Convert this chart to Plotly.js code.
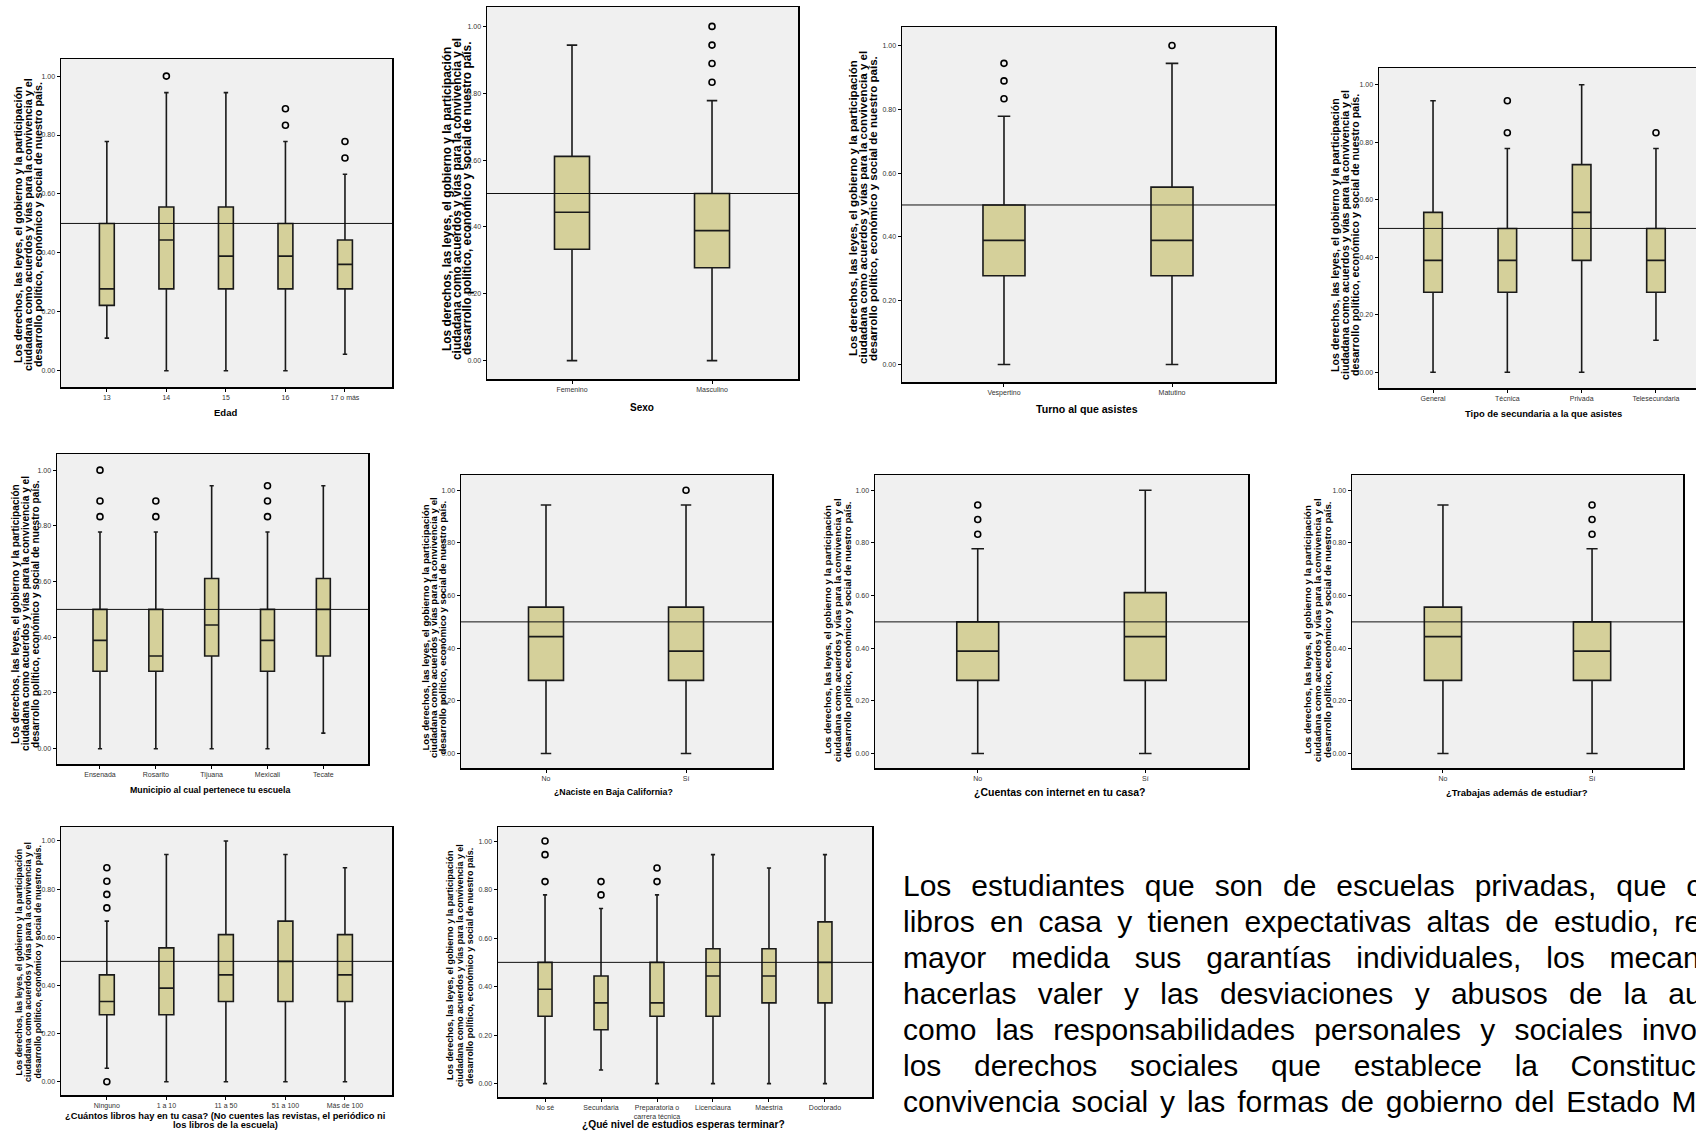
<!DOCTYPE html>
<html>
<head>
<meta charset="utf-8">
<script src="https://cdn.plot.ly/plotly-3.0.1.min.js"></script>
<style>
html,body{margin:0;padding:0;overflow:hidden;background:#fff;width:1696px;height:1134px;}
#chart{position:absolute;left:0;top:0;width:1740px;height:1134px;}
#para{position:absolute;left:903px;top:868px;font-family:"Liberation Sans",Arial,sans-serif;font-size:30px;line-height:36px;color:#000;}
#para .ln{display:block;width:960px;text-align:justify;text-align-last:justify;white-space:normal;}
#para .ln.last{text-align-last:left;white-space:nowrap;word-spacing:3.5px;}
</style>
</head>
<body>
<div id="chart"></div>
<div id="para">
<div class="ln" style="width:1035px">Los estudiantes que son de escuelas privadas, que cuentan con más</div>
<div class="ln">libros en casa y tienen expectativas altas de estudio, reconocen en</div>
<div class="ln">mayor medida sus garantías individuales, los mecanismos para</div>
<div class="ln">hacerlas valer y las desviaciones y abusos de la autoridad, así</div>
<div class="ln">como las responsabilidades personales y sociales involucradas en</div>
<div class="ln" style="width:897px">los derechos sociales que establece la Constitución, la</div>
<div class="ln last">convivencia social y las formas de gobierno del Estado Mexicano.</div>
</div>
<script>
// ---------------- DATA ----------------
const yTitleLines = [
  "Los derechos, las leyes, el gobierno y la participación",
  "ciudadana como acuerdos y vías para la convivencia y el",
  "desarrollo político, económico y social de nuestro país."
];
const yTickVals = [0, 0.2, 0.4, 0.6, 0.8, 1.0];
const refValue = 0.5;

// Panel 1: Edad
const edadCats = ['13', '14', '15', '16', '17 o más'];
const edadMin = [0.111, 0, 0, 0, 0.056];
const edadQ1 = [0.222, 0.278, 0.278, 0.278, 0.278];
const edadMed = [0.278, 0.444, 0.389, 0.389, 0.361];
const edadQ3 = [0.5, 0.556, 0.556, 0.5, 0.444];
const edadMax = [0.778, 0.944, 0.944, 0.778, 0.667];
const edadOutCat = ['14', '16', '16', '17 o más', '17 o más'];
const edadOutVal = [1.0, 0.833, 0.889, 0.722, 0.778];

// Panel 2: Sexo
const sexoCats = ['Femenino', 'Masculino'];
const sexoMin = [0, 0];
const sexoQ1 = [0.333, 0.278];
const sexoMed = [0.444, 0.389];
const sexoQ3 = [0.611, 0.5];
const sexoMax = [0.944, 0.778];
const sexoOutCat = ['Masculino', 'Masculino', 'Masculino', 'Masculino'];
const sexoOutVal = [0.833, 0.889, 0.944, 1.0];

// Panel 3: Turno
const turnoCats = ['Vespertino', 'Matutino'];
const turnoMin = [0, 0];
const turnoQ1 = [0.278, 0.278];
const turnoMed = [0.389, 0.389];
const turnoQ3 = [0.5, 0.556];
const turnoMax = [0.778, 0.944];
const turnoOutCat = ['Vespertino', 'Vespertino', 'Vespertino', 'Matutino'];
const turnoOutVal = [0.833, 0.889, 0.944, 1.0];

// Panel 4: Tipo de secundaria
const tipoCats = ['General', 'Técnica', 'Privada', 'Telesecundaria'];
const tipoMin = [0, 0, 0, 0.111];
const tipoQ1 = [0.278, 0.278, 0.389, 0.278];
const tipoMed = [0.389, 0.389, 0.556, 0.389];
const tipoQ3 = [0.556, 0.5, 0.722, 0.5];
const tipoMax = [0.944, 0.778, 1.0, 0.778];
const tipoOutCat = ['Técnica', 'Técnica', 'Telesecundaria'];
const tipoOutVal = [0.833, 0.944, 0.833];

// Panel 5: Municipio
const munCats = ['Ensenada', 'Rosarito', 'Tijuana', 'Mexicali', 'Tecate'];
const munMin = [0, 0, 0, 0, 0.056];
const munQ1 = [0.278, 0.278, 0.333, 0.278, 0.333];
const munMed = [0.389, 0.333, 0.444, 0.389, 0.5];
const munQ3 = [0.5, 0.5, 0.611, 0.5, 0.611];
const munMax = [0.778, 0.778, 0.944, 0.778, 0.944];
const munOutCat = ['Ensenada', 'Ensenada', 'Ensenada', 'Rosarito', 'Rosarito', 'Mexicali', 'Mexicali', 'Mexicali'];
const munOutVal = [0.833, 0.889, 1.0, 0.833, 0.889, 0.833, 0.889, 0.944];

// Panel 6: ¿Naciste en Baja California?
const nacCats = ['No', 'Sí'];
const nacMin = [0, 0];
const nacQ1 = [0.278, 0.278];
const nacMed = [0.444, 0.389];
const nacQ3 = [0.556, 0.556];
const nacMax = [0.944, 0.944];
const nacOutCat = ['Sí'];
const nacOutVal = [1.0];

// Panel 7: ¿Cuentas con internet?
const intCats = ['No', 'Sí'];
const intMin = [0, 0];
const intQ1 = [0.278, 0.278];
const intMed = [0.389, 0.444];
const intQ3 = [0.5, 0.611];
const intMax = [0.778, 1.0];
const intOutCat = ['No', 'No', 'No'];
const intOutVal = [0.833, 0.889, 0.944];

// Panel 8: ¿Trabajas además de estudiar?
const trabCats = ['No', 'Sí'];
const trabMin = [0, 0];
const trabQ1 = [0.278, 0.278];
const trabMed = [0.444, 0.389];
const trabQ3 = [0.556, 0.5];
const trabMax = [0.944, 0.778];
const trabOutCat = ['Sí', 'Sí', 'Sí'];
const trabOutVal = [0.833, 0.889, 0.944];

// Panel 9: ¿Cuántos libros?
const libCats = ['Ninguno', '1 a 10', '11 a 50', '51 a 100', 'Más de 100'];
const libMin = [0.056, 0, 0, 0, 0];
const libQ1 = [0.278, 0.278, 0.333, 0.333, 0.333];
const libMed = [0.333, 0.389, 0.444, 0.5, 0.444];
const libQ3 = [0.444, 0.556, 0.611, 0.667, 0.611];
const libMax = [0.667, 0.944, 1.0, 0.944, 0.889];
const libOutCat = ['Ninguno', 'Ninguno', 'Ninguno', 'Ninguno', 'Ninguno'];
const libOutVal = [0, 0.722, 0.778, 0.833, 0.889];

// Panel 10: ¿Qué nivel de estudios?
const nivCats = ['No sé', 'Secundaria', 'Preparatoria o<br>carrera técnica', 'Licenciaura', 'Maestría', 'Doctorado'];
const nivMin = [0, 0.056, 0, 0, 0, 0];
const nivQ1 = [0.278, 0.222, 0.278, 0.278, 0.333, 0.333];
const nivMed = [0.389, 0.333, 0.333, 0.444, 0.444, 0.5];
const nivQ3 = [0.5, 0.444, 0.5, 0.556, 0.556, 0.667];
const nivMax = [0.778, 0.722, 0.778, 0.944, 0.889, 0.944];
const nivOutCat = ['No sé', 'No sé', 'No sé', 'Secundaria', 'Secundaria', 'Preparatoria o<br>carrera técnica', 'Preparatoria o<br>carrera técnica'];
const nivOutVal = [0.833, 0.944, 1.0, 0.778, 0.833, 0.833, 0.889];

// ---------------- LAYOUT / STYLE ----------------
const W = 1740, H = 1134;
const YS = 1.08; // y-title font scale
const panels = [
  {cats: edadCats, min: edadMin, q1: edadQ1, med: edadMed, q3: edadQ3, max: edadMax, oc: edadOutCat, ov: edadOutVal,
   px: [61, 392, 59, 387], xr: [-0.77, 4.79], yt: {cx: 28, cy: 225, fs: 10, sp: 10}, xt: {lines: ['Edad'], cx: 226, cy: 412, fs: 9.5}},
  {cats: sexoCats, min: sexoMin, q1: sexoQ1, med: sexoMed, q3: sexoQ3, max: sexoMax, oc: sexoOutCat, ov: sexoOutVal,
   px: [487, 798, 7, 379], xr: [-0.607, 1.614], yt: {cx: 457, cy: 199, fs: 11, sp: 10}, xt: {lines: ['Sexo'], cx: 642, cy: 407, fs: 10}},
  {cats: turnoCats, min: turnoMin, q1: turnoQ1, med: turnoMed, q3: turnoQ3, max: turnoMax, oc: turnoOutCat, ov: turnoOutVal,
   px: [902, 1275, 27, 382], xr: [-0.607, 1.613], yt: {cx: 863, cy: 208, fs: 10.7, sp: 10}, xt: {lines: ['Turno al que asistes'], cx: 1087, cy: 409, fs: 10.6}},
  {cats: tipoCats, min: tipoMin, q1: tipoQ1, med: tipoMed, q3: tipoQ3, max: tipoMax, oc: tipoOutCat, ov: tipoOutVal,
   px: [1379, 1710, 68, 388], xr: [-0.727, 3.727], yt: {cx: 1345, cy: 235, fs: 9.9, sp: 10}, xt: {lines: ['Tipo de secundaria a la que asistes'], cx: 1543, cy: 413, fs: 9.4}},
  {cats: munCats, min: munMin, q1: munQ1, med: munMed, q3: munQ3, max: munMax, oc: munOutCat, ov: munOutVal,
   px: [57, 368, 454, 764], xr: [-0.77, 4.8], yt: {cx: 25, cy: 614, fs: 9.4, sp: 10}, xt: {lines: ['Municipio al cual pertenece tu escuela'], cx: 210, cy: 790, fs: 8.8}},
  {cats: nacCats, min: nacMin, q1: nacQ1, med: nacMed, q3: nacQ3, max: nacMax, oc: nacOutCat, ov: nacOutVal,
   px: [461, 772, 475, 768], xr: [-0.607, 1.614], yt: {cx: 433, cy: 628, fs: 8.9, sp: 8.5}, xt: {lines: ['¿Naciste en Baja California?'], cx: 613, cy: 792, fs: 8.8}},
  {cats: intCats, min: intMin, q1: intQ1, med: intMed, q3: intQ3, max: intMax, oc: intOutCat, ov: intOutVal,
   px: [875, 1248, 475, 768], xr: [-0.613, 1.613], yt: {cx: 837, cy: 630, fs: 9, sp: 10}, xt: {lines: ['¿Cuentas con internet en tu casa?'], cx: 1060, cy: 792, fs: 10.5}},
  {cats: trabCats, min: trabMin, q1: trabQ1, med: trabMed, q3: trabQ3, max: trabMax, oc: trabOutCat, ov: trabOutVal,
   px: [1352, 1683, 475, 768], xr: [-0.61, 1.61], yt: {cx: 1317, cy: 630, fs: 9, sp: 10}, xt: {lines: ['¿Trabajas además de estudiar?'], cx: 1517, cy: 792, fs: 9.5}},
  {cats: libCats, min: libMin, q1: libQ1, med: libMed, q3: libQ3, max: libMax, oc: libOutCat, ov: libOutVal,
   px: [61, 392, 827, 1095], xr: [-0.77, 4.79], yt: {cx: 28, cy: 962, fs: 8.2, sp: 9.5},
   xt: {lines: ['¿Cuántos libros hay en tu casa? (No cuentes las revistas, el periódico ni', 'los libros de la escuela)'], cx: 225, cy: 1120.5, fs: 9.3, sp: 9.5}},
  {cats: nivCats, min: nivMin, q1: nivQ1, med: nivMed, q3: nivQ3, max: nivMax, oc: nivOutCat, ov: nivOutVal,
   px: [498, 872, 827, 1097], xr: [-0.84, 5.84], yt: {cx: 460, cy: 966, fs: 8.3, sp: 10}, xt: {lines: ['¿Qué nivel de estudios esperas terminar?'], cx: 683, cy: 1125, fs: 10.2}}
];

const FONT = '"Liberation Sans", Arial, sans-serif';
const boxFill = '#d5d09a';
const traces = [];
const layout = {
  width: W, height: H,
  margin: {l: 0, r: 0, t: 0, b: 0},
  paper_bgcolor: '#ffffff',
  plot_bgcolor: '#f0f0f0',
  showlegend: false,
  font: {family: FONT, color: '#000'},
  shapes: [],
  annotations: []
};

panels.forEach((p, i) => {
  const n = i === 0 ? '' : String(i + 1);
  const xid = 'x' + n, yid = 'y' + n;
  const [L, R, T, B] = p.px;
  layout['xaxis' + n] = {
    domain: [L / W, R / W], anchor: yid, type: 'category',
    categoryorder: 'array', categoryarray: p.cats,
    range: p.xr, showline: true, mirror: true, linecolor: '#000', linewidth: 1.5,
    ticks: 'outside', ticklen: 3, tickwidth: 1, tickcolor: '#000',
    tickfont: {size: 7, color: '#333', family: FONT},
    showgrid: false, zeroline: false, fixedrange: true
  };
  layout['yaxis' + n] = {
    domain: [1 - B / H, 1 - T / H], anchor: xid,
    range: [-0.055, 1.058], tickmode: 'array', tickvals: yTickVals, tickformat: '.2f',
    showline: true, mirror: true, linecolor: '#000', linewidth: 1.5,
    ticks: 'outside', ticklen: 3, tickwidth: 1, tickcolor: '#000',
    tickfont: {size: 7, color: '#333', family: FONT},
    showgrid: false, zeroline: false, fixedrange: true
  };
  traces.push({
    type: 'box', xaxis: xid, yaxis: yid, x: p.cats,
    q1: p.q1, median: p.med, q3: p.q3, lowerfence: p.min, upperfence: p.max,
    boxpoints: false, width: 0.25, whiskerwidth: 0.3,
    fillcolor: boxFill, line: {color: '#1a1a1a', width: 1.6},
    hoverinfo: 'skip'
  });
  traces.push({
    type: 'scatter', mode: 'markers', xaxis: xid, yaxis: yid,
    x: p.oc, y: p.ov,
    marker: {symbol: 'circle-open', size: 6, color: '#000', line: {width: 1.6, color: '#000'}},
    hoverinfo: 'skip'
  });
  layout.shapes.push({
    type: 'line', xref: xid + ' domain', yref: yid, x0: 0, x1: 1, y0: refValue, y1: refValue,
    line: {color: '#111', width: 1}, layer: 'above'
  });
  // y title (three rotated lines)
  yTitleLines.forEach((t, k) => {
    layout.annotations.push({
      text: '<b>' + t + '</b>', xref: 'paper', yref: 'paper',
      x: (p.yt.cx + (k - 1) * p.yt.sp) / W, y: 1 - p.yt.cy / H,
      xanchor: 'center', yanchor: 'middle', textangle: -90, showarrow: false,
      font: {size: p.yt.fs * YS, color: '#000', family: FONT}
    });
  });
  // x title
  const nl = p.xt.lines.length;
  p.xt.lines.forEach((t, k) => {
    const off = (k - (nl - 1) / 2) * (p.xt.sp || 10);
    layout.annotations.push({
      text: '<b>' + t + '</b>', xref: 'paper', yref: 'paper',
      x: p.xt.cx / W, y: 1 - (p.xt.cy + off) / H,
      xanchor: 'center', yanchor: 'middle', showarrow: false,
      font: {size: p.xt.fs, color: '#000', family: FONT}
    });
  });
});

Plotly.newPlot('chart', traces, layout, {staticPlot: true, displayModeBar: false});
</script>
</body>
</html>
